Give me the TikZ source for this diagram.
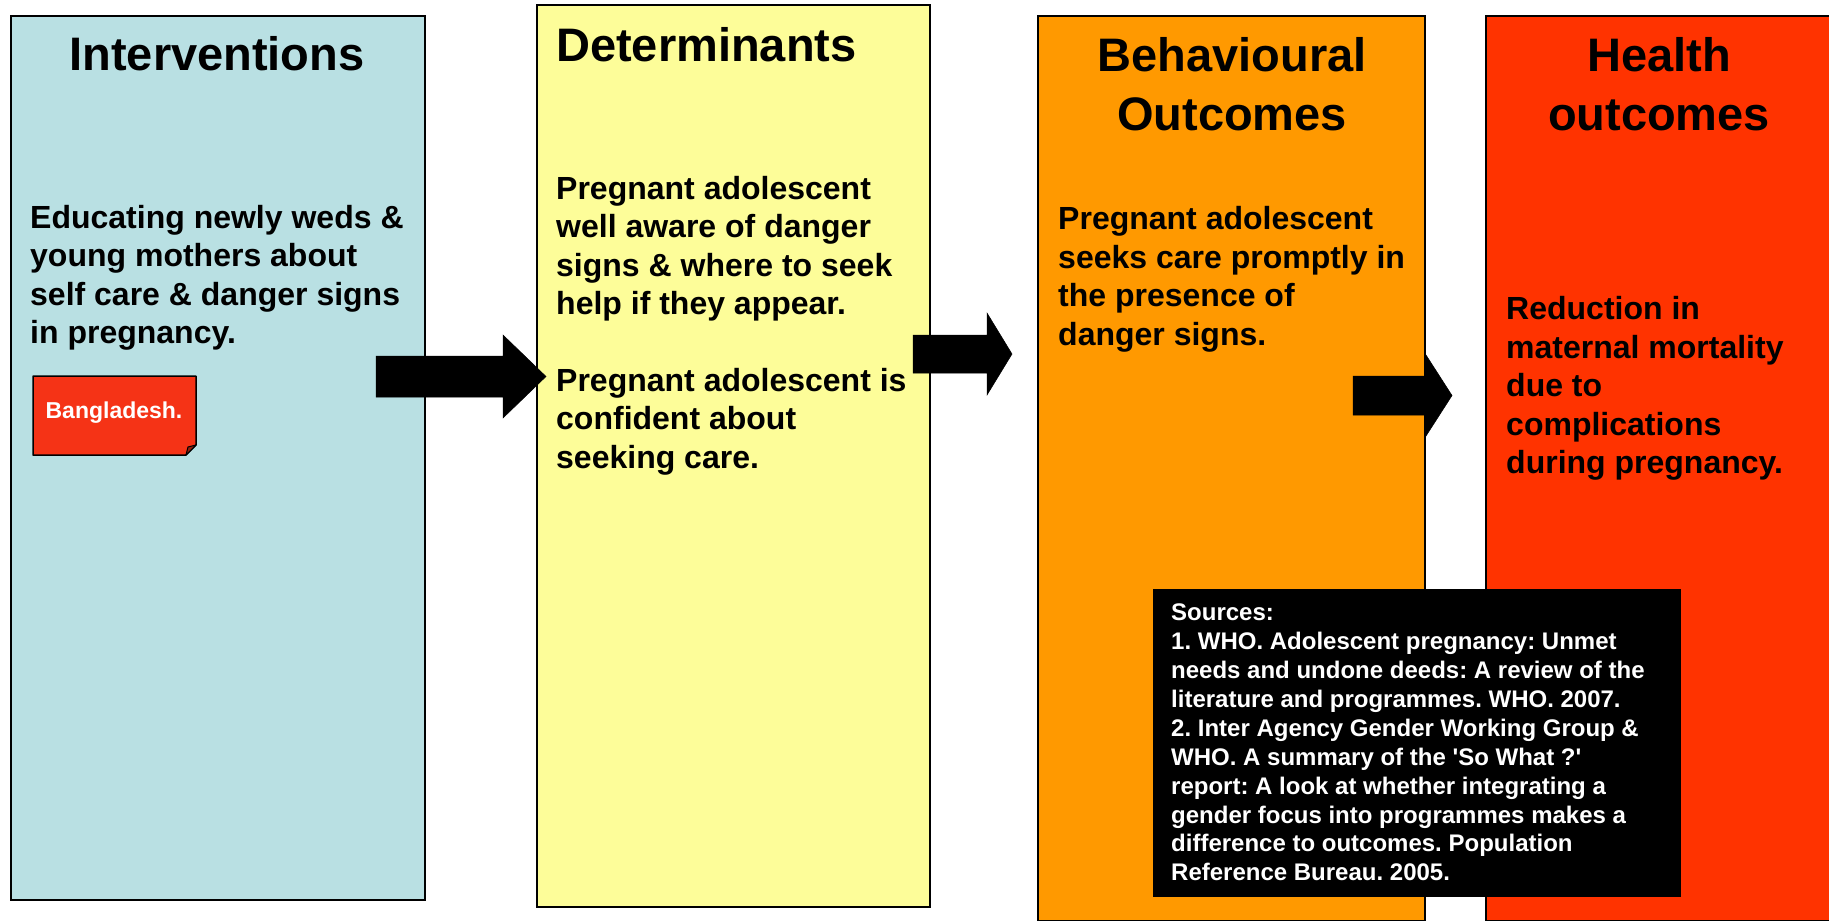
\documentclass[tikz,border=0pt]{standalone}
\usepackage{fontspec}
\setmainfont{Liberation Sans}[Ligatures=TeXOff]
\frenchspacing
\definecolor{intblue}{RGB}{185,224,227}
\definecolor{detyellow}{RGB}{253,253,153}
\definecolor{behorange}{RGB}{255,153,0}
\definecolor{healthred}{RGB}{255,51,0}
\definecolor{notered}{RGB}{245,51,22}
\begin{document}
\frenchspacing
\begin{tikzpicture}[x=1pt,y=-1pt,
  colbox/.style={draw=black,line width=1.5pt,inner sep=0,anchor=north west},
  heading/.style={font=\bfseries\fontsize{47}{56}\selectfont,inner sep=0,anchor=base},
  body/.style={font=\bfseries\fontsize{32}{38.4}\selectfont,inner sep=0,anchor=north west,align=left},
  blockarrow/.style={fill=black,draw=black,line width=0.5pt}]
\useasboundingbox (0,0) rectangle (1829,921);
\fill[white] (0,0) rectangle (1829,921);

% column boxes
\fill[black!80] (12,18) rectangle (425,901);
\node[colbox,fill=intblue,minimum width=414,minimum height=884] (int) at (10,15) {};
\fill[black!55] (538,7) rectangle (931,908);
\node[colbox,fill=detyellow,minimum width=393,minimum height=902] (det) at (536,4) {};
\node[colbox,fill=behorange,minimum width=387,minimum height=905] (beh) at (1037,15) {};
\node[colbox,fill=healthred,minimum width=352,minimum height=905] (hlt) at (1485,15) {};

% headings
\node[heading] (hint) at (217,70.5) {Interventions};
\node[heading,anchor=base west] (hdet) at (556,61) {Determinants};
\node[heading] (hbeh1) at (1232,71.6) {Behavioural};
\node[heading] (hbeh2) at (1232,130) {Outcomes};
\node[heading] (hhlt1) at (1659,71.6) {Health};
\node[heading] (hhlt2) at (1659,130) {outcomes};

% body texts
\node[body] (tint) at (30,205) {Educating newly weds \&\\young mothers about\\self care \& danger signs\\in pregnancy.};
\node[body] (tdet) at (556,176) {Pregnant adolescent\\well aware of danger\\signs \& where to seek\\help if they appear.\\[38.4pt]Pregnant adolescent is\\confident about\\seeking care.};
\node[body] (tbeh) at (1058,206.5) {Pregnant adolescent\\seeks care promptly in\\the presence of\\danger signs.};
\node[body] (thlt) at (1506,296.5) {Reduction in\\maternal mortality\\due to\\complications\\during pregnancy.};

% Bangladesh note with folded corner
\draw[fill=notered,line width=1.5pt,line join=round] (33,376) -- (196,376) -- (196,445) -- (186,455) -- (33,455) -- cycle;
\draw[fill=notered!60!black,line width=1pt,line join=round] (186,455) -- (188,447) -- (196,445) -- cycle;
\node[font=\bfseries\fontsize{23}{27}\selectfont,text=white,inner sep=0] (bd) at (114,413) {Bangladesh.};

% block arrows
\draw[blockarrow] (376,356) -- (503,356) -- (503,335) -- (546,376.5) -- (503,418) -- (503,397) -- (376,397) -- cycle;
\draw[blockarrow] (913,335) -- (987,335) -- (987,313) -- (1012,354) -- (987,395) -- (987,373) -- (913,373) -- cycle;
\draw[blockarrow] (1353,376) -- (1426,376) -- (1426,355) -- (1452,395.5) -- (1426,436) -- (1426,415) -- (1353,415) -- cycle;

% sources box
\node[fill=black,inner sep=0,anchor=north west,minimum width=528,minimum height=308] (src) at (1153,589) {};
\node[font=\bfseries\fontsize{24}{28.9}\selectfont,text=white,inner sep=0,anchor=north west,align=left] (srct) at (1171,603.8) {Sources:\\1. WHO. Adolescent pregnancy: Unmet\\needs and undone deeds: A review of the\\literature and programmes. WHO. 2007.\\2. Inter Agency Gender Working Group \&\\WHO. A summary of the 'So What ?'\\report: A look at whether integrating a\\gender focus into programmes makes a\\difference to outcomes. Population\\Reference Bureau. 2005.};
\end{tikzpicture}
\end{document}
